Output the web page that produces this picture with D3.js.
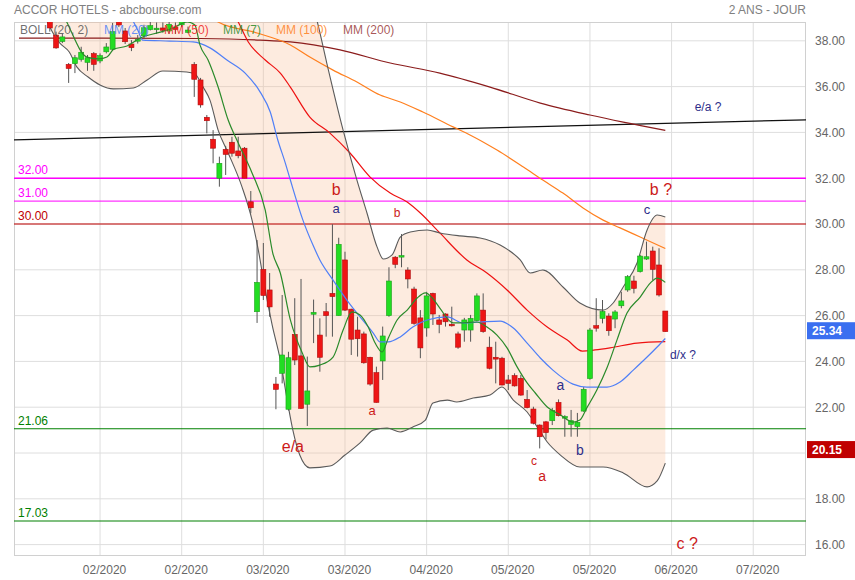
<!DOCTYPE html>
<html><head><meta charset="utf-8">
<script src="https://cdn.jsdelivr.net/npm/d3@7"></script>
<style>body{margin:0;background:#fff}svg{display:block;font-family:"Liberation Sans",Arial,sans-serif}</style>
</head><body><svg id="c" width="855" height="580"></svg>
<script>
// ---- data ----
const opens =[39.0,38.25,37.97,36.97,37.0,37.19,37.06,37.44,37.12,37.52,37.63,38.9,38.43,37.86,38.0,38.22,38.49,38.53,38.56,38.43,38.6,38.7,38.37,36.97,36.29,34.66,33.70,32.0,33.26,33.57,33.19,33.31,30.97,26.17,28.02,27.12,23.01,23.48,21.91,25.18,24.24,22.13,26.06,25.15,26.17,26.97,26.0,28.43,26.28,25.37,25.20,24.18,23.51,24.02,26.0,28.55,28.6,27.99,27.16,25.90,25.46,26.97,25.81,26.07,25.62,25.20,25.37,25.37,25.78,26.24,24.62,24.18,24.14,23.19,23.38,23.26,22.34,21.92,21.22,21.36,21.41,22.21,21.52,21.25,21.16,21.83,23.25,25.56,25.88,25.98,25.85,26.43,27.12,27.51,27.92,28.47,28.82,28.21,26.20];
const highs =[39.3,38.4,38.3,37.03,37.38,37.74,37.38,37.51,37.45,37.90,38.78,39.1,38.56,38.03,38.25,38.7,38.9,38.8,38.8,39.0,38.8,39.1,38.62,37.07,36.38,34.76,34.10,32.94,33.41,33.81,33.81,33.36,31.44,29.30,29.17,27.86,23.32,26.90,24.42,26.76,27.60,24.21,26.7,25.88,26.55,29.99,29.40,28.79,26.3,25.95,25.30,24.2,23.77,25.52,28.11,28.6,29.56,28.11,27.26,26.24,27.04,27.0,26.03,26.1,26.39,25.30,25.90,26.03,26.97,26.97,25.08,24.86,24.2,23.41,23.48,23.41,22.75,22.02,21.25,21.4,21.97,22.34,21.65,21.88,21.75,22.88,25.46,26.76,26.68,26.10,26.24,27.04,27.77,27.74,28.65,29.23,29.01,28.94,26.2];
const lows  =[38.4,37.65,37.9,36.16,36.59,37.09,36.69,36.69,37.02,37.45,37.55,38.6,37.86,37.55,37.88,38.1,38.45,38.3,38.35,38.3,38.3,38.6,38.33,35.55,35.08,33.96,32.65,31.63,32.14,32.94,32.87,32.0,30.47,25.68,26.68,25.95,21.91,23.04,21.85,23.84,21.93,21.18,24.8,23.55,25.08,25.08,26.0,26.2,24.28,24.21,23.9,22.94,22.2,23.19,25.95,28.07,28.11,27.19,25.6,24.14,25.08,25.59,25.23,25.52,25.52,24.55,24.86,24.86,25.75,25.25,23.65,23.04,22.95,22.75,22.9,22.5,21.95,21.25,20.20,20.60,21.22,21.6,20.71,20.71,20.71,21.8,23.2,25.30,25.66,25.12,25.45,26.32,27.04,26.97,27.88,28.43,27.55,26.83,25.3];
const closes=[38.56,37.69,38.17,36.79,37.26,37.50,37.26,36.97,37.35,37.73,38.40,38.69,37.96,37.70,38.05,38.57,38.66,38.55,38.46,38.72,38.5,38.95,38.47,36.32,35.20,34.51,33.31,32.65,33.04,33.09,32.98,32.0,30.71,27.45,26.88,26.38,22.78,24.28,24.16,24.06,21.95,22.71,26.14,24.18,26.0,26.83,29.11,26.24,24.97,24.99,23.94,23.01,22.21,25.11,27.51,28.24,28.62,27.60,25.66,24.59,26.86,26.07,25.62,25.73,25.60,24.62,25.81,25.88,26.86,25.30,23.70,24.10,22.97,23.04,22.93,22.53,21.98,21.30,20.71,20.89,21.85,21.63,21.59,21.41,21.34,22.78,25.37,25.45,26.18,25.34,26.16,26.64,27.70,27.19,28.60,28.57,28.02,26.90,25.30];

const xTickIdx   =[8,21,34,47,60,73,86,99,112];
const xTickLabels=["02/2020","02/2020","03/2020","03/2020","04/2020","05/2020","05/2020","06/2020","07/2020"];
const yTicks     =[16,18,20,22,24,26,28,30,32,34,36,38];

const mm7=[[1.5,39.5],[2.7,38.82],[5.9,37.29],[7.8,37.21],[9.1,37.29],[10.2,37.64],[12.3,37.77],[14.4,38.12],[17.6,38.38],[19.6,38.56],[21.9,38.82],[23.1,38.69],[23.9,37.82],[25.2,37.16],[26.8,35.98],[28.4,34.54],[30.0,33.54],[32.2,32.23],[34.3,30.61],[35.5,28.73],[36.7,27.86],[38.3,25.81],[40.2,24.37],[41.4,23.76],[43.0,23.84],[45.1,24.19],[46.7,25.37],[48.1,26.16],[49.4,26.03],[50.7,25.50],[51.8,24.80],[52.9,24.41],[53.9,25.02],[55.3,25.81],[56.9,26.24],[58.5,26.77],[59.8,26.99],[60.9,26.77],[62.1,26.33],[64.2,25.68],[65.8,25.68],[68.0,25.72],[69.6,25.50],[71.2,25.15],[72.8,24.59],[74.4,23.76],[76.0,23.06],[77.3,22.62],[79.2,22.01],[81.3,21.66],[83.3,21.35],[84.4,21.44],[85.5,21.97],[87.1,22.75],[88.7,23.71],[90.3,24.93],[91.9,26.11],[94.0,26.81],[95.6,27.42],[96.7,27.64],[98,27.45]];
const mm20=[[13,39.0],[14.0,38.47],[14.8,38.03],[19.1,37.99],[22.8,37.95],[25.5,37.69],[28.2,37.16],[31.1,36.59],[33.5,35.76],[35.1,34.89],[36.3,33.67],[37.5,32.66],[38.3,31.92],[40.3,30.17],[41.9,29.08],[43.0,28.43],[45.1,27.55],[47.3,26.68],[49.4,25.94],[51.5,25.24],[52.6,24.85],[53.9,24.85],[55.8,25.07],[57.8,25.50],[60.1,25.81],[63.3,25.94],[65.8,25.68],[68.5,25.72],[71.7,25.76],[73.8,25.46],[76.0,24.80],[78.1,24.15],[80.1,23.62],[83.3,23.01],[85.5,22.88],[88.7,22.88],[90.8,23.10],[92.9,23.62],[95.1,24.19],[96.7,24.63],[98,25.0]];
const mm50=[[29.0,39.3],[30.0,38.82],[31.6,37.95],[34.3,37.16],[36.7,36.59],[38.3,35.98],[41.4,34.67],[44.6,33.97],[47.8,33.10],[51.0,32.05],[54.2,31.35],[56.9,30.96],[59.0,30.48],[62.1,29.61],[66.4,28.43],[69.6,27.86],[72.8,27.12],[76.0,26.24],[79.2,25.50],[82.4,24.93],[84.8,24.45],[86.8,24.50],[89.2,24.59],[93.5,24.80],[98,24.86]];
const mm100=[[25.5,39.1],[26.8,38.82],[33.0,38.34],[38.3,37.82],[41.4,37.29],[45.1,36.72],[48.9,36.20],[52.6,35.63],[55.8,35.33],[59.4,34.89],[64.2,34.24],[66.9,33.89],[71.2,33.23],[75.4,32.49],[78.5,31.92],[81.7,31.35],[84.9,30.70],[88.1,30.17],[90.8,29.83],[94.0,29.43],[98,28.93]];
const mm200=[[-4.9,38.12],[8.0,38.12],[23.9,38.10],[33.5,38.03],[38.3,37.95],[46.2,37.60],[54.2,37.03],[62.1,36.59],[70.1,35.98],[78.1,35.28],[86.0,34.76],[91.3,34.45],[98,34.09]];
const bollUp=[[-1,41.5],[10,40.8],[20,40.5],[30,41.5],[40,41.0],[42.6,38.82],[44.1,37.03],[46.7,34.10],[48.9,31.92],[50.5,30.48],[52.1,29.00],[53.1,28.47],[54.5,28.65],[55.8,29.43],[57.4,29.65],[60.1,29.74],[62.1,29.61],[65.3,29.48],[68.5,29.39],[71.7,29.08],[74.9,28.43],[76.5,27.86],[78.5,27.99],[81.7,27.25],[84.4,26.55],[88.1,26.24],[89.7,26.55],[91.3,27.25],[93.5,28.30],[95.1,29.74],[96.7,30.39],[98,30.31]];
const bollLow=[[-1,39.2],[0.7,38.25],[1.6,37.90],[3.1,37.51],[4.3,36.86],[6.1,36.42],[8.0,36.07],[10.1,35.90],[13.3,35.94],[15.5,36.29],[18.0,36.68],[21.8,36.64],[23.1,36.55],[24.4,35.98],[25.5,35.41],[26.8,34.10],[28.4,33.10],[30.6,31.62],[32.2,30.17],[33.2,28.86],[34.3,27.12],[35.4,25.59],[36.7,24.06],[37.8,22.31],[38.7,21.0],[39.8,19.91],[41.4,19.35],[44.6,19.43],[47.0,19.91],[49.4,20.44],[51.5,21.00],[53.7,21.09],[55.8,20.92],[57.8,21.14],[59.8,21.44],[61.0,22.18],[63.3,22.31],[64.8,22.23],[67.4,22.40],[70.1,22.53],[72.0,22.88],[73.8,22.31],[76.0,21.79],[77.6,21.14],[79.2,20.48],[81.3,19.91],[84.4,19.39],[88.1,19.39],[91.3,19.13],[95.1,18.52],[96.7,18.78],[98,19.56]];
const trendLine=[[-5.7,33.67],[120.4,34.55]];
const levelValues=[32,31,30,21.06,17.03];
const priceTags=[25.34,20.15];
const annoText=["b","a","b","e/a","a","c","a","a","b","c","b ?","d/x ?","e/a ?","c ?"];
const annoIdx =[45.6,45.6,55.3,38.7,51.3,77.1,78.4,81.3,84.4,95.1,97.3,100.8,104.8,101.5];
const annoVal =[31.27,30.48,30.31,20.04,21.66,19.48,18.78,22.75,19.91,30.44,31.27,24.10,34.93,15.81];
const legendText=["BOLL (20, 2)","MM (20)","MM (50)","MM (7)","MM (100)","MM (200)"];

// ---- styles ----
const RED="#cc1a1a", NAVY="#2e2e8a";
const annoStyle=[[RED,16],[NAVY,13],[RED,12],[RED,16],[RED,13],[RED,12],[RED,14],[NAVY,14],[NAVY,14],[NAVY,13],[RED,16],[NAVY,12],[NAVY,12],[RED,16]];
const levelStyle=[["#ff00ff",1.5],["#ff00ff",1],["#c00000",1.2],["#008000",1.2],["#008000",1.2]];
const legendStyle=[["#555",20],["#4f7ff7",104],["#ee2222",164],["#2a8a2a",223],["#ff7f1e",276],["#9a3a3a",343]];
const tagStyle=["#3a6ff0","#c00000"];

const L=14,R=806,T=22,B=556;
const svg=d3.select("#c");
const x=d3.scaleLinear().domain([-5.7,120.4]).range([L,R]);
const y=d3.scaleLinear().domain([16,38]).range([544.6,40.8]);

svg.append("defs").append("clipPath").attr("id","pc").append("rect").attr("x",L).attr("y",T).attr("width",R-L).attr("height",B-T);

// header
svg.append("text").attr("x",14).attr("y",14).attr("fill","#808080").attr("font-size",12).text("ACCOR HOTELS - abcbourse.com");
svg.append("text").attr("x",806).attr("y",14).attr("text-anchor","end").attr("fill","#808080").attr("font-size",12).text("2 ANS - JOUR");

// grid
const g=svg.append("g");
g.selectAll(".hg").data(yTicks).join("line").attr("x1",L).attr("x2",R).attr("y1",d=>y(d)).attr("y2",d=>y(d)).attr("stroke","#dedede");
g.selectAll(".vg").data(xTickIdx).join("line").attr("y1",T).attr("y2",B).attr("x1",d=>x(d)).attr("x2",d=>x(d)).attr("stroke","#dedede");
g.append("rect").attr("x",L+0.5).attr("y",T+0.5).attr("width",R-L-1).attr("height",B-T-1).attr("fill","none").attr("stroke","#d0d0d0");

const plot=svg.append("g").attr("clip-path","url(#pc)");
const line=d3.line().x(d=>x(d[0])).y(d=>y(d[1])).curve(d3.curveMonotoneX);

// bollinger fill
const upPath=line(bollUp);
const lowPath=line(bollLow.slice().reverse());
plot.append("path").attr("d",upPath+"L"+lowPath.slice(1)+"Z").attr("fill","rgb(250,190,150)").attr("fill-opacity",0.3);

// levels
levelValues.forEach((v,k)=>{
  plot.append("line").attr("x1",L).attr("x2",R).attr("y1",y(v)).attr("y2",y(v)).attr("stroke",levelStyle[k][0]).attr("stroke-width",levelStyle[k][1]);
  svg.append("text").attr("x",18).attr("y",y(v)-4).attr("fill",levelStyle[k][0]).attr("font-size",12).text(v.toFixed(2));
});

// trend line
plot.append("path").attr("d",d3.line().x(d=>x(d[0])).y(d=>y(d[1]))(trendLine)).attr("stroke","#111").attr("stroke-width",1.2).attr("fill","none");

// MA lines
[[mm200,"#8b1c1c",1.2],[mm100,"#ff7f1e",1.2],[mm50,"#ee1111",1.2],[bollUp,"#5a5a5a",1.1],[bollLow,"#5a5a5a",1.1]].forEach(([d,c,w])=>{
  plot.append("path").attr("d",line(d)).attr("stroke",c).attr("stroke-width",w).attr("fill","none");
});

// candles
const idx=d3.range(opens.length);
const cg=plot.append("g");
cg.selectAll(".w").data(idx).join("line").attr("x1",i=>x(i)).attr("x2",i=>x(i)).attr("y1",i=>y(highs[i])).attr("y2",i=>y(lows[i])).attr("stroke","#555").attr("stroke-width",1);
cg.selectAll(".b").data(idx).join("rect")
  .attr("x",i=>x(i)-2.5).attr("width",5)
  .attr("y",i=>y(Math.max(opens[i],closes[i])))
  .attr("height",i=>Math.max(1.5,Math.abs(y(opens[i])-y(closes[i]))))
  .attr("fill",i=>closes[i]>=opens[i]?"#22dd22":"#ee1515")
  .attr("stroke",i=>closes[i]>=opens[i]?"#1aa01a":"#b00c0c").attr("stroke-width",0.6);

[[mm20,"#4f7ff7",1.2],[mm7,"#2a8a2a",1.2]].forEach(([d,c,w])=>{
  plot.append("path").attr("d",line(d)).attr("stroke",c).attr("stroke-width",w).attr("fill","none");
});

// annotations
annoText.forEach((t,k)=>{
  svg.append("text").attr("x",x(annoIdx[k])).attr("y",y(annoVal[k])).attr("text-anchor","middle")
    .attr("fill",annoStyle[k][0]).attr("font-size",annoStyle[k][1]).text(t);
});

// legend
legendText.forEach((t,k)=>{
  svg.append("text").attr("x",legendStyle[k][1]).attr("y",34).attr("fill",legendStyle[k][0]).attr("fill-opacity",0.85).attr("font-size",12).text(t);
});

// axes (tick labels hidden where a price tag covers them, as in the reference)
const labelTicks=yTicks.filter(t=>priceTags.every(p=>Math.abs(y(t)-y(p))>12));
const ya=svg.append("g").attr("transform",`translate(${R+6},0)`).call(d3.axisRight(y).tickValues(labelTicks).tickFormat(d3.format(".2f")).tickSize(0));
ya.select(".domain").remove();
ya.selectAll("text").attr("fill","#666").attr("font-size",12).attr("font-family","Liberation Sans, Arial, sans-serif");
const xa=svg.append("g").attr("transform",`translate(4,${B+6})`).call(d3.axisBottom(x).tickValues(xTickIdx).tickFormat((d,i)=>xTickLabels[i]).tickSize(0));
xa.select(".domain").remove();
xa.selectAll("text").attr("fill","#666").attr("font-size",12).attr("font-family","Liberation Sans, Arial, sans-serif");

// price tags
priceTags.forEach((v,k)=>{
  svg.append("rect").attr("x",R+1).attr("y",y(v)-8.5).attr("width",48).attr("height",17).attr("fill",tagStyle[k]);
  svg.append("text").attr("x",R+6).attr("y",y(v)+4.5).attr("fill","#fff").attr("font-size",12).attr("font-weight","bold").text(v.toFixed(2));
});
</script></body></html>
